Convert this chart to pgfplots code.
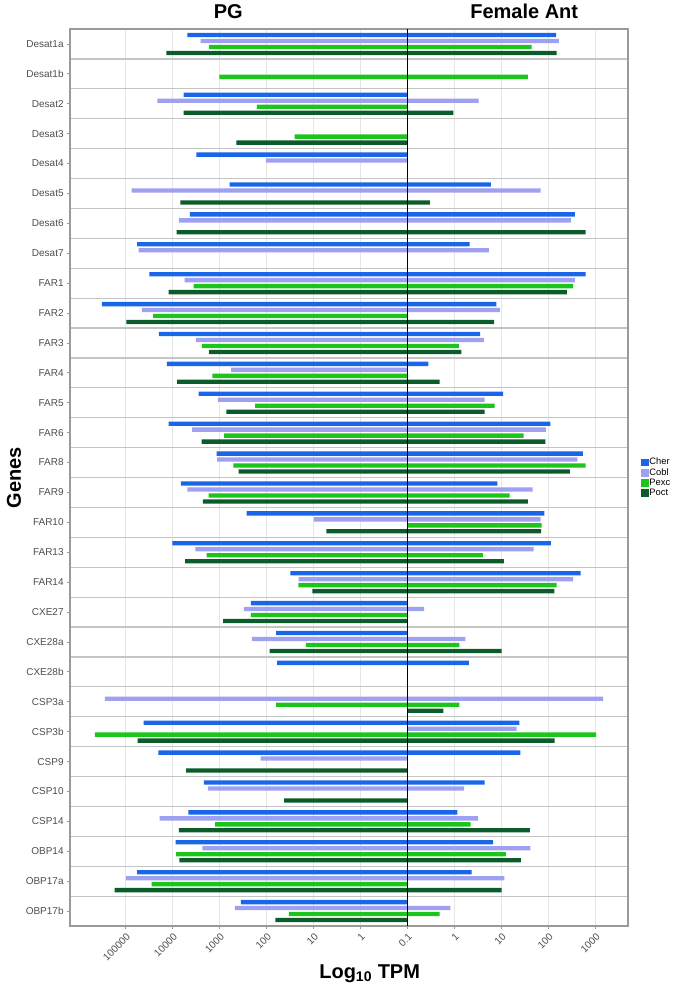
\documentclass[border=0pt]{standalone}
\usepackage{fontspec}
\setmainfont{Liberation Sans}
\usepackage{pgfplots}
\usepackage{pgfplotstable}
\pgfplotsset{compat=1.18}

\definecolor{cher}{HTML}{1A66E8}
\definecolor{cobl}{HTML}{A0A0F0}
\definecolor{pexc}{HTML}{1CC41C}
\definecolor{poct}{HTML}{0B5C2A}
\definecolor{txtgray}{HTML}{4D4D4D}
\definecolor{sepgray}{HTML}{C4C4C4}
\definecolor{gridgray}{HTML}{E6E6E6}
\definecolor{bordergray}{HTML}{9A9A9A}

% positions in decades from 0.1 TPM (PG to the left as negative, Female Ant to the right)
\pgfplotstableread{
row cherL cherR coblL coblR pexcL pexcR poctL poctR
1  -4.69 3.16 -4.41 3.22 -4.23 2.64 -5.14 3.17
2   0    0     0    0    -4.01 2.56  0    0
3  -4.77 0    -5.33 1.51 -3.21 0    -4.77 0.97
4   0    0     0    0    -2.41 0    -3.65 0
5  -4.50 0    -3.02 0     0    0     0    0
6  -3.79 1.77 -5.88 2.83  0    0    -4.84 0.47
7  -4.64 3.56 -4.87 3.48  0    0    -4.92 3.79
8  -5.76 1.32 -5.73 1.73  0    0     0    0
9  -5.50 3.79 -4.75 3.56 -4.56 3.52 -5.09 3.39
10 -6.51 1.89 -5.66 1.96 -5.42 0    -5.99 1.84
11 -5.30 1.54 -4.51 1.62 -4.38 1.09 -4.23 1.14
12 -5.13 0.44 -3.76 0    -4.16 0    -4.91 0.68
13 -4.45 2.03 -4.04 1.64 -3.25 1.85 -3.86 1.64
14 -5.09 3.04 -4.59 2.94 -3.91 2.47 -4.39 2.93
15 -4.07 3.73 -4.06 3.61 -3.71 3.79 -3.60 3.45
16 -4.83 1.91 -4.69 2.66 -4.24 2.17 -4.36 2.56
17 -3.43 2.91 -2.00 2.83  0    2.85 -1.73 2.84
18 -5.01 3.05 -4.52 2.68 -4.28 1.60 -4.74 2.05
19 -2.50 3.68 -2.32 3.52 -2.33 3.17 -2.03 3.12
20 -3.34 0    -3.49 0.35 -3.34 0    -3.93 0
21 -2.80 0    -3.32 1.23 -2.17 1.10 -2.94 2.00
22 -2.78 1.30  0    0     0    0     0    0
23  0    0    -6.45 4.16 -2.80 1.10  0    0.76
24 -5.62 2.38  0    2.32 -6.66 4.01 -5.75 3.13
25 -5.31 2.40 -3.13 0     0    0    -4.72 0
26 -4.34 1.64 -4.25 1.20  0    0    -2.63 0
27 -4.67 1.06 -5.28 1.50 -4.10 1.34 -4.87 2.60
28 -4.94 1.82 -4.37 2.61 -4.93 2.09 -4.86 2.41
29 -5.76 1.36 -6.00 2.06 -5.45 0    -6.24 2.00
30 -3.55 0    -3.68 0.91 -2.53 0.68 -2.82 0
}\genedata

\pgfplotsset{genebar/.style={xbar, bar width=0.145, bar shift=0pt, draw=none, forget plot}}

\begin{document}
\begin{tikzpicture}
\begin{axis}[
  scale only axis, width=418.5pt, height=672.75pt,
  xmin=-7.19, xmax=4.69, ymin=0.5, ymax=30.5, y dir=reverse,
  clip=false,
  xtick={-6,-5,-4,-3,-2,-1,0,1,2,3,4},
  xticklabels={100000,10000,1000,100,10,1,0.1,1,10,100,1000},
  ytick={1,...,30},
  yticklabels={Desat1a,Desat1b,Desat2,Desat3,Desat4,Desat5,Desat6,Desat7,FAR1,FAR2,FAR3,FAR4,FAR5,FAR6,FAR8,FAR9,FAR10,FAR13,FAR14,CXE27,CXE28a,CXE28b,CSP3a,CSP3b,CSP9,CSP10,CSP14,OBP14,OBP17a,OBP17b},
  minor ytick={1.5,2.5,3.5,4.5,5.5,6.5,7.5,8.5,9.5,10.5,11.5,12.5,13.5,14.5,15.5,16.5,17.5,18.5,19.5,20.5,21.5,22.5,23.5,24.5,25.5,26.5,27.5,28.5,29.5},
  xtick pos=bottom, ytick pos=left,
  tick align=outside,
  major tick length=2.6pt, minor tick length=0pt,
  major tick style={bordergray, line width=0.6pt},
  xmajorgrids, major x grid style={gridgray, line width=0.6pt},
  yminorgrids, minor y grid style={sepgray, line width=0.9pt},
  axis line style={bordergray, line width=0.8pt},
  x tick label style={rotate=45, anchor=north east, font=\fontsize{7.5}{9}\selectfont, text=txtgray, inner sep=1.5pt},
  y tick label style={font=\fontsize{7.5}{9}\selectfont, text=txtgray, inner sep=2pt},
  /pgf/number format/assume math mode=true,
  legend style={at={(1.023,0.5)}, anchor=west, draw=none, fill=none, inner sep=0pt,
    font=\fontsize{7}{7}\selectfont, row sep=-0.6pt, nodes={inner sep=0.9pt}},
  legend cell align=left,
]
\addplot[genebar, fill=cher] table[x=cherL, y expr=\thisrow{row}-0.3] {\genedata};
\addplot[genebar, fill=cher] table[x=cherR, y expr=\thisrow{row}-0.3] {\genedata};
\addplot[genebar, fill=cobl] table[x=coblL, y expr=\thisrow{row}-0.1] {\genedata};
\addplot[genebar, fill=cobl] table[x=coblR, y expr=\thisrow{row}-0.1] {\genedata};
\addplot[genebar, fill=pexc] table[x=pexcL, y expr=\thisrow{row}+0.1] {\genedata};
\addplot[genebar, fill=pexc] table[x=pexcR, y expr=\thisrow{row}+0.1] {\genedata};
\addplot[genebar, fill=poct] table[x=poctL, y expr=\thisrow{row}+0.3] {\genedata};
\addplot[genebar, fill=poct] table[x=poctR, y expr=\thisrow{row}+0.3] {\genedata};

\addlegendimage{legend image code/.code={\fill[cher] (0pt,-2.5pt) rectangle (5pt,2.5pt);}}
\addlegendentry{Cher}
\addlegendimage{legend image code/.code={\fill[cobl] (0pt,-2.5pt) rectangle (5pt,2.5pt);}}
\addlegendentry{Cobl}
\addlegendimage{legend image code/.code={\fill[pexc] (0pt,-2.5pt) rectangle (5pt,2.5pt);}}
\addlegendentry{Pexc}
\addlegendimage{legend image code/.code={\fill[poct] (0pt,-2.5pt) rectangle (5pt,2.5pt);}}
\addlegendentry{Poct}

\draw[black, line width=0.9pt] (axis cs:0,0.5) -- (axis cs:0,30.5);

\node[font=\bfseries\fontsize{15}{18}\selectfont, anchor=base] at (axis cs:-3.82,0.5) [yshift=8pt] {PG};
\node[font=\bfseries\fontsize{15}{18}\selectfont, anchor=base] at (axis cs:2.48,0.5) [yshift=8pt] {Female Ant};
\node[font=\bfseries\fontsize{15}{18}\selectfont, anchor=base] at (axis cs:-0.81,30.5) [yshift=-39.5pt] {Log\textsubscript{10} TPM};

\coordinate (GL) at (axis cs:-7.19,15.5);
\coordinate (SW) at (axis cs:-7.19,30.5);
\coordinate (NE) at (axis cs:4.69,0.5);
\end{axis}
\node[font=\bfseries\fontsize{15}{18}\selectfont, rotate=90, anchor=center] at ([xshift=-42pt]GL) {Genes};
\pgfresetboundingbox
\path[use as bounding box] ([shift={(-52.5pt,-49.5pt)}]SW) rectangle ([shift={(34.5pt,21.75pt)}]NE);
\end{tikzpicture}
\end{document}
